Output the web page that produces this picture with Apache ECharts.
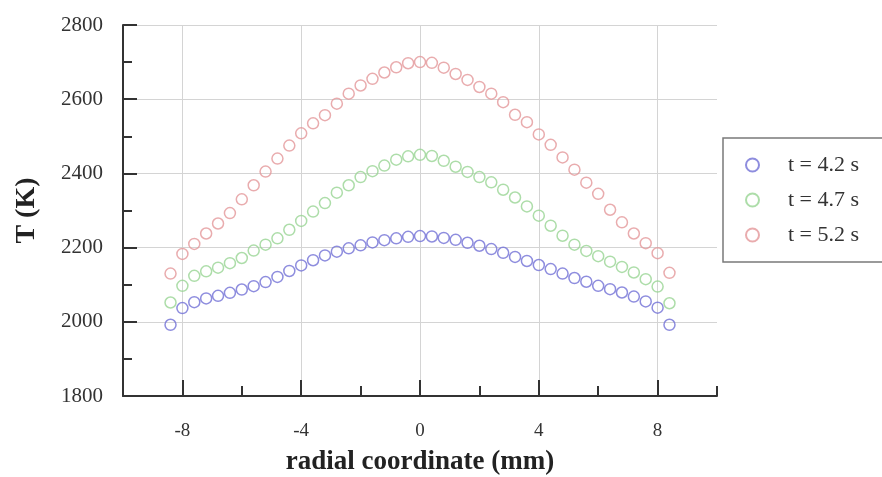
<!DOCTYPE html>
<html>
<head>
<meta charset="utf-8">
<script src="https://cdn.jsdelivr.net/npm/echarts@6/dist/echarts.min.js"></script>
<style>
html,body{margin:0;padding:0;background:#fff;}
#chart{width:882px;height:477px;}
</style>
</head>
<body>
<div id="chart"></div>
<script>
// radial coordinate (mm)
var radialX = [-8.4,-8.0,-7.6,-7.2,-6.8,-6.4,-6.0,-5.6,-5.2,-4.8,-4.4,-4.0,-3.6,-3.2,-2.8,-2.4,-2.0,-1.6,-1.2,-0.8,-0.4,0,
               0.4,0.8,1.2,1.6,2.0,2.4,2.8,3.2,3.6,4.0,4.4,4.8,5.2,5.6,6.0,6.4,6.8,7.2,7.6,8.0,8.4];
// T (K) for t = 4.2 s
var temp42 = [1992,2037,2053,2063,2070,2078,2087,2096,2107,2121,2137,2152,2166,2179,2189,2198,2206,2214,2220,2225,2229,2231,
              2230,2226,2221,2213,2205,2196,2186,2175,2164,2153,2142,2130,2118,2108,2097,2088,2079,2068,2055,2038,1992];
// T (K) for t = 4.7 s
var temp47 = [2052,2097,2124,2136,2146,2158,2172,2192,2208,2225,2248,2272,2297,2320,2348,2368,2390,2406,2421,2437,2446,2450,
              2447,2434,2418,2404,2390,2376,2356,2335,2311,2286,2259,2232,2208,2191,2177,2162,2148,2133,2115,2095,2050];
// T (K) for t = 5.2 s
var temp52 = [2130,2183,2210,2238,2265,2293,2330,2368,2405,2440,2475,2508,2535,2557,2588,2615,2637,2655,2672,2686,2697,2700,
              2698,2685,2668,2652,2633,2615,2592,2558,2538,2505,2477,2443,2410,2375,2345,2302,2268,2238,2212,2185,2132];
var seriesNames = ['t = 4.2 s', 't = 4.7 s', 't = 5.2 s'];
var xTickLabels = ['-8', '-4', '0', '4', '8'];
var yTickLabels = ['1800', '2000', '2200', '2400', '2600', '2800'];

var colors = ['#7270d6', '#98d494', '#e3979a'];
var serif = "'Liberation Serif', 'Times New Roman', serif";

// plot frame: x from -10..10, major (labelled) ticks from -8..8
var gL = 123, gR = 165, gT = 25, gB = 81;
var plotW = 882 - gL - gR;
var pxPerUnit = plotW / 20;

function pairs(ys) { return radialX.map(function (x, i) { return [x, ys[i]]; }); }

function mkSeries(name, ys, c) {
  return {
    name: name, type: 'scatter', xAxisIndex: 0, yAxisIndex: 0,
    symbol: 'circle', symbolSize: 11,
    itemStyle: { color: 'rgba(255,255,255,0)', borderColor: c, borderWidth: 1.5 },
    emphasis: { disabled: true },
    z: 5,
    data: pairs(ys)
  };
}

var chart = echarts.init(document.getElementById('chart'), null, { renderer: 'canvas' });
chart.setOption({
  animation: false,
  backgroundColor: '#fff',
  grid: [
    { left: gL, right: gR, top: gT, bottom: gB, containLabel: false, outerBoundsMode: 'none' },
    { left: gL + 2 * pxPerUnit, right: gR + 2 * pxPerUnit, top: gT, bottom: gB, containLabel: false, outerBoundsMode: 'none' }
  ],
  legend: {
    orient: 'vertical', left: 723, top: 138,
    padding: [16, 40, 16, 22],
    itemGap: 13, itemWidth: 13, itemHeight: 13,
    borderColor: '#7a7a7a', borderWidth: 1.5,
    textStyle: { fontFamily: serif, fontSize: 22, color: '#333', padding: [0, 0, 0, 24] },
    data: seriesNames
  },
  xAxis: [
    {
      gridIndex: 0, type: 'value', min: -10, max: 10, interval: 2, position: 'bottom',
      axisLine: { onZero: false, lineStyle: { color: '#333', width: 2 } },
      axisTick: { inside: true, length: 10, lineStyle: { color: '#333', width: 2 } },
      axisLabel: {
        show: true, margin: 26, fontFamily: serif, fontSize: 19, color: '#333',
        formatter: function (v) { var s = String(Math.round(v)); return xTickLabels.indexOf(s) >= 0 ? s : ''; }
      },
      splitLine: { show: false },
      name: 'radial coordinate (mm)', nameLocation: 'middle', nameGap: 53,
      nameTextStyle: { fontFamily: serif, fontSize: 27, fontWeight: 'bold', color: '#222' }
    },
    {
      gridIndex: 1, type: 'value', min: -8, max: 8, interval: 4, position: 'bottom',
      axisLine: { show: false, onZero: false },
      axisTick: { inside: true, length: 16, lineStyle: { color: '#333', width: 2 } },
      axisLabel: { show: false },
      splitLine: { show: true, lineStyle: { color: '#d4d4d4', width: 1 } }
    }
  ],
  yAxis: [
    {
      gridIndex: 0, type: 'value', min: 1800, max: 2800, interval: 200,
      axisLine: { show: true, onZero: false, lineStyle: { color: '#333', width: 2 } },
      axisTick: { inside: true, length: 14, lineStyle: { color: '#333', width: 2 } },
      minorTick: { show: true, splitNumber: 2, length: 9, lineStyle: { color: '#333', width: 2 } },
      axisLabel: {
        margin: 20, fontFamily: serif, fontSize: 21, color: '#333',
        formatter: function (v) { var s = String(Math.round(v)); return yTickLabels.indexOf(s) >= 0 ? s : ''; }
      },
      splitLine: { show: true, showMinLine: false, lineStyle: { color: '#d4d4d4', width: 1 } },
      name: 'T (K)', nameLocation: 'middle', nameGap: 82,
      nameTextStyle: { fontFamily: serif, fontSize: 28, fontWeight: 'bold', color: '#222' }
    },
    {
      gridIndex: 1, type: 'value', min: 1800, max: 2800, show: false
    }
  ],
  series: [
    mkSeries(seriesNames[0], temp42, colors[0]),
    mkSeries(seriesNames[1], temp47, colors[1]),
    mkSeries(seriesNames[2], temp52, colors[2])
  ]
});
</script>
</body>
</html>
